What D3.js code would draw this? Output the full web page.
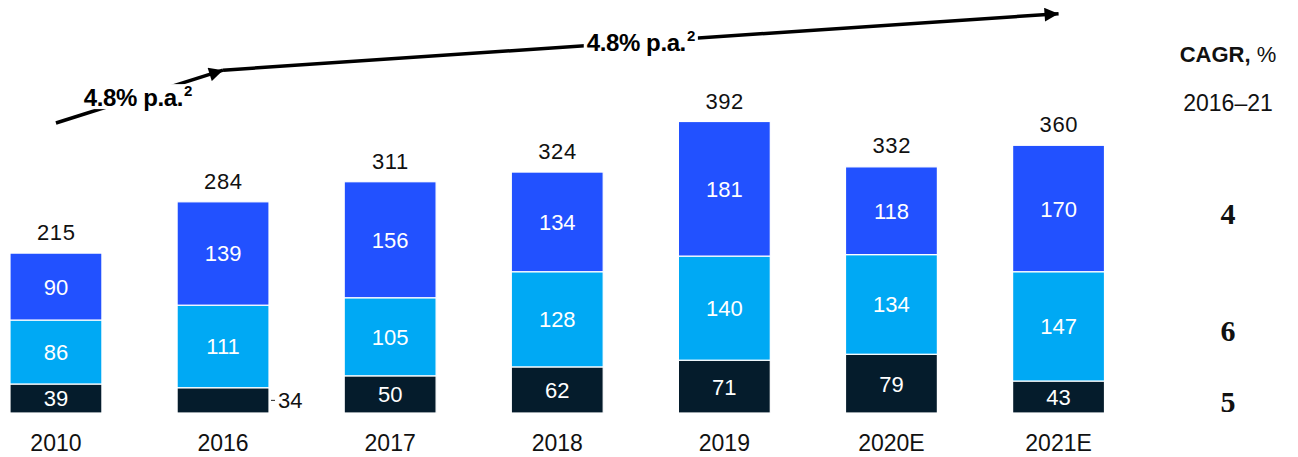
<!DOCTYPE html>
<html><head><meta charset="utf-8">
<script src="https://cdn.jsdelivr.net/npm/d3@7"></script>
<style>
html,body{margin:0;padding:0;background:#fff;}
text{font-family:"Liberation Sans",Arial,Helvetica,sans-serif;}
</style>
</head><body>
<svg id="chart" width="1298" height="457"></svg>
<script>
const categories = ["2010","2016","2017","2018","2019","2020E","2021E"];
const seriesNames = ["Dark","Light","Blue"];
const darkValues  = [39, 34, 50, 62, 71, 79, 43];
const lightValues = [86, 111, 105, 128, 140, 134, 147];
const blueValues  = [90, 139, 156, 134, 181, 118, 170];
const totals      = [215, 284, 311, 324, 392, 332, 360];
const colors      = ["#051c2c", "#00a9f4", "#2251ff"];
const cagrValues  = ["5", "6", "4"]; // dark, light, blue
const cagrTitle = "CAGR,";
const cagrUnit = " %";
const cagrPeriod = "2016\u201321";
const growthLabel = "4.8% p.a.";
const growthSup = "2";
// arrow annotation anchor points (category, value level)
const arrow1 = [{cat:"2010", v:390}, {cat:"2016", v:461}];
const arrow2 = [{cat:"2016", v:461}, {cat:"2021E", v:537}];

const svg = d3.select("#chart");
const x = d3.scaleBand().domain(categories).range([10, 1104.5]).paddingInner(0.45).paddingOuter(0);
const y = d3.scaleLinear().domain([0, 392]).range([413, 121.5]);

const data = categories.map((c,i)=>({cat:c, Dark:darkValues[i], Light:lightValues[i], Blue:blueValues[i], total:totals[i]}));
const stack = d3.stack().keys(seriesNames)(data);

const gBars = svg.append("g");
stack.forEach((layer, li) => {
  gBars.selectAll(null).data(layer).enter().append("rect")
    .attr("x", d => x(d.data.cat))
    .attr("width", x.bandwidth())
    .attr("y", d => y(d[1]))
    .attr("height", d => y(d[0]) - y(d[1]))
    .attr("fill", colors[li])
    .attr("stroke", "#fff").attr("stroke-width", 1.2);
});

// inside labels
stack.forEach((layer, li) => {
  gBars.selectAll(null).data(layer).enter().append("text")
    .filter(d => !(d.data.cat === "2016" && li === 0))
    .attr("x", d => x(d.data.cat) + x.bandwidth()/2)
    .attr("y", d => (y(d[0]) + y(d[1]))/2 + 8)
    .attr("text-anchor", "middle")
    .attr("font-size", 22)
    .attr("fill", "#fff")
    .text(d => d[1]-d[0]);
});

// outside label for 2016 dark
{
  const layer = stack[0];
  const d = layer[1];
  const ym = (y(d[0]) + y(d[1]))/2;
  const xr = x(d.data.cat) + x.bandwidth();
  svg.append("line").attr("x1", xr + 2).attr("x2", xr + 6).attr("y1", ym).attr("y2", ym)
    .attr("stroke", "#222").attr("stroke-width", 1);
  svg.append("text").attr("x", xr + 9).attr("y", ym + 8).attr("font-size", 22).attr("fill", "#111")
    .text(d[1]-d[0]);
}

// totals
svg.selectAll(".tot").data(data).enter().append("text")
  .attr("x", d => x(d.cat) + x.bandwidth()/2 + 0.3)
  .attr("y", d => y(d.total) - 13)
  .attr("text-anchor", "middle").attr("font-size", 22).attr("letter-spacing", 0.6).attr("fill", "#111")
  .text(d => d.total);

// x axis labels
const xAxis = d3.axisBottom(x).tickSize(0).tickPadding(0);
const gx = svg.append("g").attr("transform", "translate(0,413)").call(xAxis);
gx.select(".domain").remove();
gx.selectAll("text").attr("font-size", 23).attr("fill", "#111")
  .attr("font-family", "Liberation Sans, Arial, sans-serif")
  .attr("dy", 0).attr("y", 38);

// CAGR header
const hx = 1228;
const h = svg.append("text").attr("x", hx).attr("y", 62).attr("text-anchor", "middle").attr("font-size", 22).attr("fill", "#111");
h.append("tspan").attr("font-weight", "bold").text(cagrTitle);
h.append("tspan").text(cagrUnit);
svg.append("text").attr("x", hx).attr("y", 111).attr("text-anchor", "middle").attr("font-size", 23).attr("fill", "#111").text(cagrPeriod);

// CAGR values aligned to last bar's segments
const lastIdx = categories.length - 1;
stack.forEach((layer, li) => {
  const d = layer[lastIdx];
  svg.append("text").attr("x", hx).attr("y", (y(d[0]) + y(d[1]))/2 + 15)
    .attr("text-anchor", "middle").attr("font-size", 30).attr("font-weight", "bold")
    .style("font-family", "'Liberation Serif','DejaVu Serif',serif").attr("fill", "#111")
    .text(cagrValues[li]);
});

// arrows
const defs = svg.append("defs");
defs.append("marker").attr("id", "ah").attr("viewBox", "0 0 10 10").attr("refX", 10).attr("refY", 5)
  .attr("markerWidth", 17).attr("markerHeight", 14).attr("markerUnits", "userSpaceOnUse").attr("orient", "auto")
  .append("path").attr("d", "M0,0 L10,5 L0,10 z").attr("fill", "#000");

function drawArrow(pts) {
  const p = pts.map(q => [x(q.cat) + x.bandwidth()/2, y(q.v)]);
  svg.append("line").attr("x1", p[0][0]).attr("y1", p[0][1]).attr("x2", p[1][0]).attr("y2", p[1][1])
    .attr("stroke", "#000").attr("stroke-width", 3.5).attr("marker-end", "url(#ah)");
  return p;
}
function drawLabel(p, fx) {
  const cx = p[0][0] + (p[1][0] - p[0][0]) * fx;
  const cy = p[0][1] + (p[1][1] - p[0][1]) * fx;
  const g = svg.append("g");
  const bg = g.append("rect").attr("fill", "#fff");
  const t = g.append("text").attr("x", cx).attr("y", cy + 9).attr("text-anchor", "middle")
    .attr("font-size", 24).attr("font-weight", "bold").attr("fill", "#000").attr("letter-spacing", -0.4);
  t.append("tspan").text(growthLabel);
  t.append("tspan").attr("font-size", 15).attr("dy", -10).attr("dx", 1).text(growthSup);
  const bb = t.node().getBBox();
  bg.attr("x", bb.x - 3).attr("y", bb.y + 2).attr("width", bb.width + 6).attr("height", bb.height - 4);
}
const p1 = drawArrow(arrow1);
const p2 = drawArrow(arrow2);
drawLabel(p1, 0.49);
drawLabel(p2, 0.5);
</script>
</body></html>
